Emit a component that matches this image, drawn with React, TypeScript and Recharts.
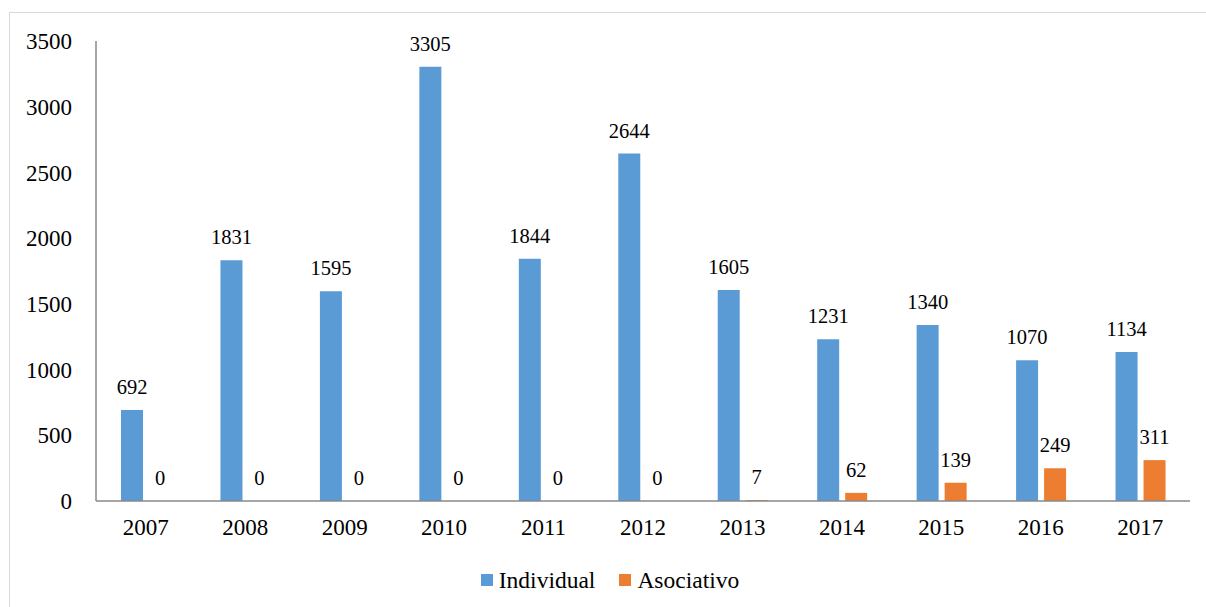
import React from "react";
import { BarChart, Bar, XAxis, YAxis, LabelList, Legend } from "recharts";

const years = ["2007", "2008", "2009", "2010", "2011", "2012", "2013", "2014", "2015", "2016", "2017"];
const individual = [692, 1831, 1595, 3305, 1844, 2644, 1605, 1231, 1340, 1070, 1134];
const asociativo = [0, 0, 0, 0, 0, 0, 7, 62, 139, 249, 311];
const yTicks = [0, 500, 1000, 1500, 2000, 2500, 3000, 3500];

const data = years.map((y, i) => ({ year: y, Individual: individual[i], Asociativo: asociativo[i] }));

const FONT = "'Liberation Serif', 'Times New Roman', serif";
const BLUE = "#5B9BD5";
const ORANGE = "#ED7D31";

const renderLegend = () => (
  <div style={{ display: "flex", justifyContent: "center", alignItems: "center", height: 30, paddingLeft: 30, fontFamily: FONT, fontSize: 23.5, color: "#000" }}>
    <span style={{ display: "inline-block", width: 12, height: 12, background: BLUE, marginRight: 6 }} />
    <span style={{ marginRight: 24 }}>Individual</span>
    <span style={{ display: "inline-block", width: 12, height: 12, background: ORANGE, marginRight: 6 }} />
    <span>Asociativo</span>
  </div>
);

export default function App() {
  return (
    <div style={{ position: "absolute", left: 0, top: 0, width: 1206, height: 607, background: "#fff", fontFamily: FONT }}>
      <div style={{ position: "absolute", left: 9, top: 12, width: 1210, height: 610, border: "1px solid #D9D9D9", boxSizing: "border-box" }} />
      <BarChart
        width={1206}
        height={607}
        data={data}
        margin={{ top: 41, right: 16, left: 0, bottom: 12 }}
        barGap={6}
        barSize={22}
      >
        <YAxis
          width={96}
          domain={[0, 3500]}
          ticks={yTicks}
          interval={0}
          tickLine={false}
          axisLine={{ stroke: "#898989", strokeWidth: 1.5 }}
          tick={{ fontFamily: FONT, fontSize: 23, fill: "#000" }}
          tickMargin={18}
        />
        <XAxis
          dataKey="year"
          height={64}
          tickLine={false}
          axisLine={{ stroke: "#898989", strokeWidth: 1.5 }}
          tick={{ fontFamily: FONT, fontSize: 23, fill: "#000" }}
          tickMargin={12}
        />
        <Legend verticalAlign="bottom" content={renderLegend} />
        <Bar dataKey="Individual" fill={BLUE} isAnimationActive={false}>
          <LabelList dataKey="Individual" position="top" offset={16} style={{ fontFamily: FONT, fontSize: 20.5, fill: "#000" }} />
        </Bar>
        <Bar dataKey="Asociativo" fill={ORANGE} isAnimationActive={false} minPointSize={0.01}>
          <LabelList dataKey="Asociativo" position="top" offset={16} style={{ fontFamily: FONT, fontSize: 20.5, fill: "#000" }} />
        </Bar>
      </BarChart>
    </div>
  );
}
